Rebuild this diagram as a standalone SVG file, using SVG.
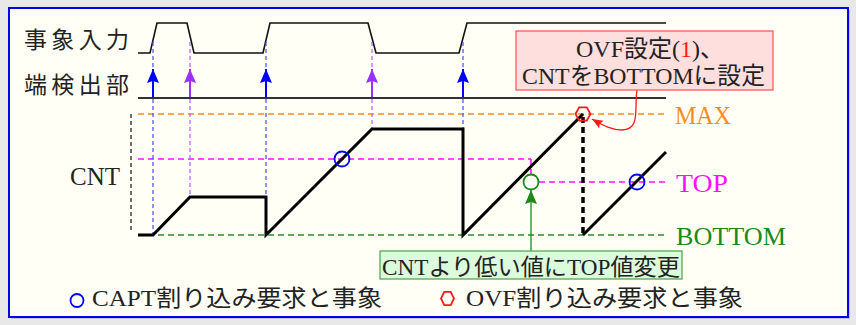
<svg xmlns="http://www.w3.org/2000/svg" width="856" height="325" viewBox="0 0 856 325">
<style>
text{font-family:"Liberation Serif","Noto Sans CJK JP",serif;fill:#222}
.lbl{font-size:23px}
.lat{font-size:25px}
.hd{fill:none;stroke-width:1.6;stroke-dasharray:6 4}
.vd{fill:none;stroke-width:1.2;stroke-dasharray:4 3}
.arr{fill:none;stroke-width:2}
</style>
<defs>
<marker id="ab" viewBox="0 0 14 12" markerWidth="14" markerHeight="12" refX="14" refY="6" orient="auto" markerUnits="userSpaceOnUse"><path d="M0,0 L14,6 L0,12 L2,6 z" fill="#0000ff"/></marker>
<marker id="ap" viewBox="0 0 14 12" markerWidth="14" markerHeight="12" refX="14" refY="6" orient="auto" markerUnits="userSpaceOnUse"><path d="M0,0 L14,6 L0,12 L2,6 z" fill="#9a30ff"/></marker>
<marker id="ag" viewBox="0 0 14 12" markerWidth="14" markerHeight="12" refX="14" refY="6" orient="auto" markerUnits="userSpaceOnUse"><path d="M0,0 L14,6 L0,12 L2,6 z" fill="#1a8a1a"/></marker>
<marker id="ar" viewBox="0 0 11 9" markerWidth="11" markerHeight="9" refX="11" refY="4.5" orient="auto" markerUnits="userSpaceOnUse"><path d="M0,0 L11,4.5 L0,9 L2,4.5 z" fill="#ff1a1a"/></marker>
</defs>
<rect x="0" y="0" width="856" height="325" fill="#e8e8e8"/>
<rect x="11" y="10" width="839" height="309" fill="#c4c4d0"/>
<rect x="9" y="8" width="839" height="309" fill="#fffff6" stroke="#0000ee" stroke-width="2"/>

<g id="labels">
<text class="lbl" x="24" y="48" textLength="105">事象入力</text>
<text class="lbl" x="24" y="93" textLength="105">端検出部</text>
<text class="lat" x="70" y="185">CNT</text>
<text class="lat" x="675" y="124" textLength="56" lengthAdjust="spacingAndGlyphs" style="fill:#ff8c1a">MAX</text>
<text class="lat" x="676" y="191.5" textLength="52" lengthAdjust="spacingAndGlyphs" style="fill:#ff10ff">TOP</text>
<text class="lat" x="676" y="245" textLength="110" lengthAdjust="spacingAndGlyphs" style="fill:#1a8a1a">BOTTOM</text>
</g>

<g id="connectors">
<!-- event input -->
<path d="M138,53 L150,53 L157,23 L187,23 L194,53 L263,53 L270,23 L368,23 L376,53 L459,53 L467,23 L666,23" fill="none" stroke="#111" stroke-width="1.6"/>
<!-- edge detect baseline -->
<line x1="138" y1="98" x2="666" y2="98" stroke="#333" stroke-width="2"/>
<!-- horizontal levels -->
<line class="hd" x1="138" y1="114" x2="666" y2="114" stroke="#ff8c1a"/>
<line class="hd" x1="138" y1="159" x2="531" y2="159" stroke="#ff10ff"/>
<line class="hd" x1="531" y1="159" x2="531" y2="174" stroke="#ff10ff"/>
<line class="hd" x1="539" y1="182" x2="666" y2="182" stroke="#ff10ff"/>
<line class="hd" x1="138" y1="235" x2="666" y2="235" stroke="#2a8a2a"/>
<line class="vd" x1="131" y1="114" x2="131" y2="232" stroke="#111"/>
<!-- vertical dashed edge lines -->
<g stroke="#4a4aff">
<line class="vd" x1="153" y1="42" x2="153" y2="69"/><line class="vd" x1="153" y1="99" x2="153" y2="235"/>
<line class="vd" x1="266" y1="42" x2="266" y2="69"/><line class="vd" x1="266" y1="99" x2="266" y2="197"/>
<line class="vd" x1="463" y1="42" x2="463" y2="69"/><line class="vd" x1="463" y1="99" x2="463" y2="129"/>
</g>
<g stroke="#b060ff">
<line class="vd" x1="190" y1="42" x2="190" y2="69"/><line class="vd" x1="190" y1="99" x2="190" y2="197"/>
<line class="vd" x1="372" y1="42" x2="372" y2="69"/><line class="vd" x1="372" y1="99" x2="372" y2="129"/>
</g>
<!-- edge arrows -->
<line class="arr" x1="153" y1="97" x2="153" y2="69" stroke="#0000ff" marker-end="url(#ab)"/>
<line class="arr" x1="266" y1="97" x2="266" y2="69" stroke="#0000ff" marker-end="url(#ab)"/>
<line class="arr" x1="463" y1="97" x2="463" y2="69" stroke="#0000ff" marker-end="url(#ab)"/>
<line class="arr" x1="190" y1="97" x2="190" y2="69" stroke="#9a30ff" marker-end="url(#ap)"/>
<line class="arr" x1="372" y1="97" x2="372" y2="69" stroke="#9a30ff" marker-end="url(#ap)"/>
<!-- CNT waveform -->
<path d="M138,235 L153,235 L190,197 L266,197 L266,235 L372,129 L463,129 L463,235 L583,114" fill="none" stroke="#000" stroke-width="3"/>
<path d="M583,235 L666,152" fill="none" stroke="#000" stroke-width="3"/>
<line x1="583" y1="117" x2="583" y2="235" stroke="#000" stroke-width="3.5" stroke-dasharray="6 4"/>
<!-- callout connectors -->
<line x1="531" y1="251" x2="531" y2="190" stroke="#1a8a1a" stroke-width="1.3" marker-end="url(#ag)"/>
<path d="M637,90 C634,108 641,130 622,130 C612,130 604,126 592,119" fill="none" stroke="#ff1a1a" stroke-width="1.3" marker-end="url(#ar)"/>
</g>

<g id="markers">
<circle cx="342" cy="159" r="7.5" fill="none" stroke="#0000ff" stroke-width="1.8"/>
<circle cx="637" cy="182" r="7.5" fill="none" stroke="#0000ff" stroke-width="1.8"/>
<circle cx="531" cy="182" r="7.5" fill="none" stroke="#1a8a1a" stroke-width="1.8"/>
<polygon points="575.5,114 579.2,107.3 586.8,107.3 590.5,114 586.8,120.7 579.2,120.7" fill="none" stroke="#ff1a1a" stroke-width="1.8"/>
</g>

<g id="ovf-note">
<rect x="516" y="31" width="257" height="59" fill="#ffdede" stroke="#ff5a5a" stroke-width="1.3"/>
<text x="576" y="57" style="font-size:24px">OVF設定(<tspan style="fill:#ff1a1a">1</tspan>)、</text>
<text x="522" y="84" style="font-size:24px" textLength="243" lengthAdjust="spacingAndGlyphs">CNTをBOTTOMに設定</text>
</g>

<g id="top-note">
<rect x="380" y="251" width="302" height="28" fill="#dcfadc" stroke="#55aa55" stroke-width="1.3"/>
<text x="382" y="275" style="font-size:23px" textLength="298" lengthAdjust="spacingAndGlyphs">CNTより低い値にTOP値変更</text>
</g>

<g id="legend">
<circle cx="77" cy="300.5" r="6.5" fill="none" stroke="#0000ff" stroke-width="1.8"/>
<text x="92" y="306" style="font-size:23px" textLength="290" lengthAdjust="spacingAndGlyphs">CAPT割り込み要求と事象</text>
<polygon points="441,298.5 444.3,291.8 450.7,291.8 454,298.5 450.7,305.2 444.3,305.2" fill="none" stroke="#ff1a1a" stroke-width="1.8"/>
<text x="466" y="306" style="font-size:23px" textLength="277" lengthAdjust="spacingAndGlyphs">OVF割り込み要求と事象</text>
</g>
</svg>
